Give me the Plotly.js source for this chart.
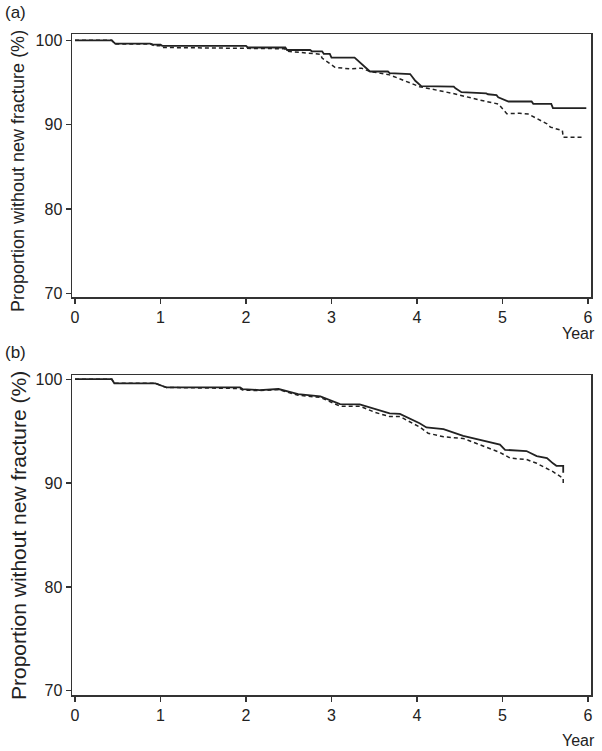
<!DOCTYPE html>
<html>
<head>
<meta charset="utf-8">
<script src="https://cdn.plot.ly/plotly-3.0.1.min.js"></script>
<style>html,body{margin:0;padding:0;background:#fff;}#chart{width:602px;height:751px;}</style>
</head>
<body>
<div id="chart"></div>
<script>
// Panel (a) – solid curve
const aSolidYear = [0, 0.43, 0.47, 0.88, 0.90, 1.00, 1.02, 2.00, 2.02, 2.46, 2.48, 2.75, 2.77, 2.89, 2.91, 2.98, 3.00, 3.27, 3.45, 3.66, 3.68, 3.92, 3.98, 4.05, 4.43, 4.45, 4.52, 4.81, 4.83, 4.93, 4.95, 5.07, 5.34, 5.36, 5.57, 5.59, 5.98];
const aSolidSurv = [100, 100, 99.6, 99.6, 99.5, 99.5, 99.35, 99.35, 99.15, 99.15, 98.85, 98.85, 98.7, 98.7, 98.4, 98.4, 97.95, 97.95, 96.3, 96.3, 96.1, 96.0, 95.2, 94.56, 94.5, 94.3, 93.85, 93.7, 93.6, 93.5, 93.25, 92.74, 92.74, 92.46, 92.46, 91.95, 91.95];
// Panel (a) – dashed curve
const aDashYear = [0, 0.43, 0.47, 0.90, 0.92, 1.00, 1.02, 2.00, 2.45, 2.48, 2.87, 2.89, 3.04, 3.22, 3.35, 3.45, 3.68, 4.03, 4.42, 4.74, 4.95, 5.05, 5.20, 5.30, 5.52, 5.56, 5.70, 5.71, 5.93];
const aDashSurv = [100, 100, 99.55, 99.55, 99.35, 99.35, 99.15, 99.1, 99.0, 98.7, 98.35, 97.9, 96.8, 96.6, 96.7, 96.3, 95.9, 94.5, 93.7, 92.9, 92.45, 91.3, 91.35, 91.25, 90.1, 89.7, 89.3, 88.5, 88.5];
// Panel (b) – solid curve
const bSolidYear = [0, 0.43, 0.46, 0.94, 1.07, 1.93, 1.96, 2.16, 2.38, 2.61, 2.87, 3.10, 3.33, 3.57, 3.68, 3.80, 4.03, 4.11, 4.31, 4.54, 4.97, 5.03, 5.28, 5.40, 5.52, 5.59, 5.63, 5.71, 5.71];
const bSolidSurv = [100, 100, 99.6, 99.6, 99.2, 99.2, 99.05, 98.95, 99.05, 98.55, 98.35, 97.6, 97.57, 97.0, 96.7, 96.65, 95.75, 95.35, 95.2, 94.55, 93.7, 93.2, 93.08, 92.6, 92.4, 91.9, 91.66, 91.66, 91.0];
// Panel (b) – dashed curve
const bDashYear = [0, 0.43, 0.46, 0.94, 1.07, 1.40, 1.93, 1.96, 2.16, 2.38, 2.61, 2.87, 3.10, 3.33, 3.51, 3.68, 3.80, 4.03, 4.13, 4.31, 4.54, 4.97, 5.09, 5.28, 5.40, 5.59, 5.71, 5.71];
const bDashSurv = [100, 100, 99.6, 99.6, 99.2, 99.15, 99.1, 98.95, 98.9, 99.0, 98.45, 98.24, 97.4, 97.4, 96.8, 96.4, 96.4, 95.4, 94.8, 94.45, 94.3, 92.95, 92.4, 92.27, 91.9, 91.1, 90.45, 89.9];

const xTicks = [0, 1, 2, 3, 4, 5, 6];
const yTicks = [70, 80, 90, 100];
const yTitle = "Proportion without new fracture (%)";
const xTitle = "Year";
const panelLabels = ["(a)", "(b)"];

const FONT = "Liberation Sans, Arial, Helvetica, sans-serif";
const INK = "#222";
// pixel helpers for annotation placement (plot area: x 72..591, y 34..695)
const L = 72, R = 591, T = 34, B = 695;
const px = x => (x - L) / (R - L);
const py = y => (B - y) / (B - T);

const solid = {color: INK, width: 1.8};
const dashed = {color: INK, width: 1.5, dash: "4px,3px"};

const traces = [
  {x: aSolidYear, y: aSolidSurv, xaxis: "x", yaxis: "y", mode: "lines", line: solid, hoverinfo: "skip"},
  {x: aDashYear, y: aDashSurv, xaxis: "x", yaxis: "y", mode: "lines", line: dashed, hoverinfo: "skip"},
  {x: bSolidYear, y: bSolidSurv, xaxis: "x2", yaxis: "y2", mode: "lines", line: solid, hoverinfo: "skip"},
  {x: bDashYear, y: bDashSurv, xaxis: "x2", yaxis: "y2", mode: "lines", line: dashed, hoverinfo: "skip"}
];

function xax(anchor) {
  return {
    anchor: anchor, domain: [0, 1], range: [-0.035, 6.035],
    tickvals: xTicks, ticktext: xTicks.map(String),
    ticks: "outside", ticklen: 5, tickwidth: 1.3, tickcolor: "#333",
    showline: true, linecolor: "#333", linewidth: 1.5, mirror: true,
    showgrid: false, zeroline: false,
    tickfont: {family: FONT, size: 16, color: INK}
  };
}
function yax(anchor, domain, range) {
  return {
    anchor: anchor, domain: domain, range: range,
    tickvals: yTicks, ticktext: yTicks.map(String),
    ticks: "outside", ticklen: 5, tickwidth: 1.3, tickcolor: "#333",
    showline: true, linecolor: "#333", linewidth: 1.5, mirror: true,
    showgrid: false, zeroline: false,
    tickfont: {family: FONT, size: 16, color: INK}
  };
}

const layout = {
  width: 602, height: 751,
  margin: {l: L, r: 602 - R, t: T, b: 751 - B, pad: 0},
  paper_bgcolor: "#fff", plot_bgcolor: "#fff",
  showlegend: false,
  xaxis: xax("y"),
  yaxis: yax("x", [py(297), 1], [69.55, 100.75]),
  xaxis2: xax("y2"),
  yaxis2: yax("x2", [0, py(375)], [69.6, 100.4]),
  annotations: [
    {text: panelLabels[0], xref: "paper", yref: "paper", x: px(15), y: py(13), xanchor: "center", yanchor: "middle", showarrow: false, font: {family: FONT, size: 17, color: INK}},
    {text: panelLabels[1], xref: "paper", yref: "paper", x: px(15), y: py(352), xanchor: "center", yanchor: "middle", showarrow: false, font: {family: FONT, size: 17, color: INK}},
    {text: yTitle, xref: "paper", yref: "paper", x: px(18), y: py(171), textangle: -90, xanchor: "center", yanchor: "middle", showarrow: false, font: {family: FONT, size: 18, color: INK}},
    {text: yTitle, xref: "paper", yref: "paper", x: px(18), y: py(536), textangle: -90, xanchor: "center", yanchor: "middle", showarrow: false, font: {family: FONT, size: 21, color: INK}},
    {text: xTitle, xref: "paper", yref: "paper", x: px(578), y: py(333), xanchor: "center", yanchor: "middle", showarrow: false, font: {family: FONT, size: 16, color: INK}},
    {text: xTitle, xref: "paper", yref: "paper", x: px(578), y: py(740), xanchor: "center", yanchor: "middle", showarrow: false, font: {family: FONT, size: 16, color: INK}}
  ]
};

Plotly.newPlot("chart", traces, layout, {staticPlot: true, displayModeBar: false});
</script>
</body>
</html>
